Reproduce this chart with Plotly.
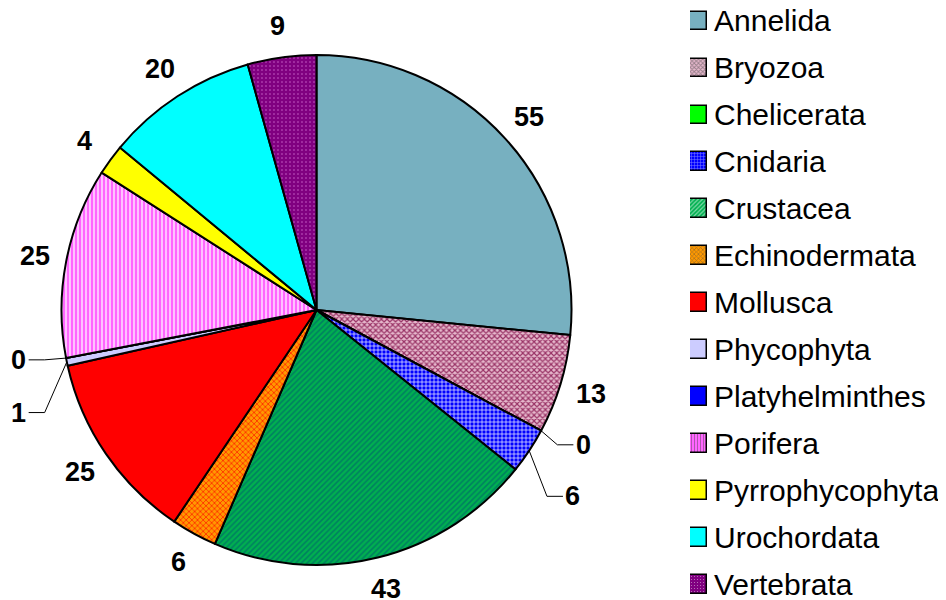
import math
import plotly.graph_objects as go

# ---- data ----
phyla = ["Annelida", "Bryozoa", "Chelicerata", "Cnidaria", "Crustacea",
         "Echinodermata", "Mollusca", "Phycophyta", "Platyhelminthes",
         "Porifera", "Pyrrophycophyta", "Urochordata", "Vertebrata"]
counts = [55, 13, 0, 6, 43, 6, 25, 1, 0, 25, 4, 20, 9]

# ---- styles ----
bg_colors = ["#77B0C0", "#E6B8CC", "#00FF00", "#0000FF", "#00B050",
             "#FF9900", "#FF0000", "#CCCCFF", "#0000FF",
             "#FF66FF", "#FFFF00", "#00FFFF", "#800080"]
fg_colors = ["#77B0C0", "#993366", "#00FF00", "#FFFFFF", "#008060",
             "#FF3300", "#FF0000", "#CCCCFF", "#0000FF",
             "#FFFFFF", "#FFFF00", "#00FFFF", "#CC66CC"]
shapes_pat = ["", "x", "", "+", "/", "x", "", "", "", "|", "", "", "."]
solidities = [0.3, 0.5, 0.3, 0.3, 0.4, 0.4, 0.3, 0.3, 0.3, 0.3, 0.3, 0.3, 0.12]

W, H = 946, 600
PAGE_OFFSET = 8  # default page body margin
CX, CY, R = 316.5 - PAGE_OFFSET, 310.0 - PAGE_OFFSET, 255.0
FONT = "Arial, Liberation Sans, sans-serif"

# legend geometry (pixels, figure coords)
LEG_X0, LEG_X1 = 690 - PAGE_OFFSET, 707 - PAGE_OFFSET
LEG_FIRST, LEG_STEP = 21 - PAGE_OFFSET, 47.0

fig = go.Figure()
fig.add_trace(go.Pie(
    labels=phyla, values=counts, sort=False, direction="clockwise",
    rotation=0, textinfo="none", hoverinfo="label+value", showlegend=False,
    domain=dict(x=[(CX - R) / W, (CX + R) / W], y=[1 - (CY + R) / H, 1 - (CY - R) / H]),
    marker=dict(colors=bg_colors, line=dict(color="black", width=2),
                pattern=dict(shape=shapes_pat, fgcolor=fg_colors, bgcolor=bg_colors,
                             size=4, solidity=solidities, fillmode="replace")),
))

# legend built as swatches on a small category axis
fig.add_trace(go.Bar(
    y=phyla, x=[1] * len(phyla), orientation="h", width=0.4,
    marker=dict(color=bg_colors, line=dict(color="black", width=1.5),
                pattern=dict(shape=shapes_pat, fgcolor=fg_colors,
                             size=3, solidity=solidities, fillmode="overlay")),
    hoverinfo="skip", showlegend=False,
))

n = len(phyla)
top_val = -LEG_FIRST / LEG_STEP
bottom_px = LEG_FIRST + (n - 0.5) * LEG_STEP
fig.update_xaxes(domain=[LEG_X0 / W, LEG_X1 / W], range=[0, 1], visible=False, fixedrange=True)
fig.update_yaxes(domain=[max(0, 1 - bottom_px / H), 1], range=[n - 0.5, top_val],
                 type="category", side="right", showgrid=False, zeroline=False,
                 showline=False, ticks="", ticklabelstandoff=6, fixedrange=True,
                 tickfont=dict(family=FONT, size=30, color="black"))

# ---- data labels ----
total = sum(counts)
# label placement tweaks for crowded small slices: (angle_deg, radius_px, side)
nudges = {
    "Chelicerata": (116.8, 299, 1),
    "Cnidaria": (126.0, 317, 1),
    "Phycophyta": (251.0, 315, -1),
    "Platyhelminthes": (260.5, 302, -1),
}

def px(a_deg, r):
    a = math.radians(a_deg)
    return CX + r * math.sin(a), CY - r * math.cos(a)

annotations = []
shapes = []
cum = 0.0
for name, v in zip(phyla, counts):
    mid = (cum + v / 2) / total * 360
    cum += v
    if name in nudges:
        ang, rad, side = nudges[name]
        lx, ly = px(ang, rad)
        ex, ey = px(mid, R)
        elbow_x = lx - side * 26
        end_x = lx - side * 10
        path = "M {} {} L {} {} L {} {}".format(
            ex / W, 1 - ey / H, elbow_x / W, 1 - ly / H, end_x / W, 1 - ly / H)
        shapes.append(dict(type="path", xref="paper", yref="paper", path=path,
                           line=dict(color="black", width=1)))
    else:
        lx, ly = px(mid, R + 32)
    annotations.append(dict(x=lx / W, y=1 - ly / H, xref="paper", yref="paper",
                            text=str(v), showarrow=False, xanchor="center", yanchor="middle",
                            font=dict(family=FONT, size=27, color="black", weight="bold")))

fig.update_layout(
    width=W, height=H, margin=dict(l=0, r=0, t=0, b=0, autoexpand=False),
    paper_bgcolor="white", plot_bgcolor="rgba(0,0,0,0)",
    annotations=annotations, shapes=shapes,
    showlegend=False, bargap=0,
)

fig.write_html("out.html")
